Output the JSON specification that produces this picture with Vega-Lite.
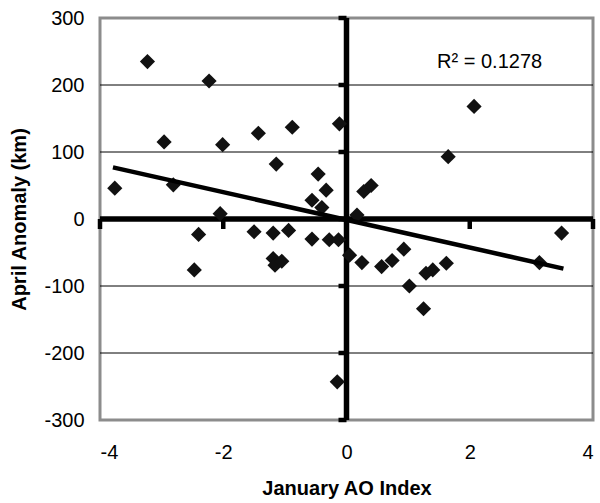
{
  "$schema": "https://vega.github.io/schema/vega-lite/v6.json",
  "width": 493,
  "height": 402,
  "autosize": "none",
  "padding": {"left": 100, "top": 18, "right": 7, "bottom": 83},
  "background": "white",
  "config": {
    "view": {"stroke": "#8c8c8c", "strokeWidth": 3},
    "font": "Liberation Sans"
  },
  "datasets": {
    "points": [
      {"ao": -3.76, "anomaly": 46}, {"ao": -3.23, "anomaly": 235}, {"ao": -2.96, "anomaly": 115},
      {"ao": -2.81, "anomaly": 51}, {"ao": -2.47, "anomaly": -76}, {"ao": -2.40, "anomaly": -23},
      {"ao": -2.23, "anomaly": 206}, {"ao": -2.05, "anomaly": 8}, {"ao": -2.01, "anomaly": 111},
      {"ao": -1.50, "anomaly": -19}, {"ao": -1.43, "anomaly": 128}, {"ao": -1.19, "anomaly": -21},
      {"ao": -1.19, "anomaly": -59}, {"ao": -1.16, "anomaly": -69}, {"ao": -1.05, "anomaly": -63},
      {"ao": -1.14, "anomaly": 82}, {"ao": -0.94, "anomaly": -17}, {"ao": -0.88, "anomaly": 137},
      {"ao": -0.56, "anomaly": 28}, {"ao": -0.56, "anomaly": -30}, {"ao": -0.46, "anomaly": 67},
      {"ao": -0.40, "anomaly": 17}, {"ao": -0.33, "anomaly": 43}, {"ao": -0.28, "anomaly": -31},
      {"ao": -0.15, "anomaly": -243}, {"ao": -0.13, "anomaly": -31}, {"ao": -0.115, "anomaly": 142},
      {"ao": 0.05, "anomaly": -54}, {"ao": 0.17, "anomaly": 6}, {"ao": 0.25, "anomaly": -65},
      {"ao": 0.28, "anomaly": 41}, {"ao": 0.40, "anomaly": 50}, {"ao": 0.57, "anomaly": -71},
      {"ao": 0.74, "anomaly": -62}, {"ao": 0.93, "anomaly": -45}, {"ao": 1.02, "anomaly": -100},
      {"ao": 1.25, "anomaly": -134}, {"ao": 1.29, "anomaly": -81}, {"ao": 1.40, "anomaly": -76},
      {"ao": 1.62, "anomaly": -66}, {"ao": 1.65, "anomaly": 93}, {"ao": 2.07, "anomaly": 168},
      {"ao": 3.13, "anomaly": -65}, {"ao": 3.49, "anomaly": -21}
    ],
    "trend": [
      {"ao": -3.79, "anomaly": 77},
      {"ao": 3.52, "anomaly": -74}
    ],
    "grid": [{"v": -200}, {"v": -100}, {"v": 100}, {"v": 200}],
    "xticks": [{"v": -4}, {"v": -2}, {"v": 0}, {"v": 2}, {"v": 4}],
    "yticks": [{"v": -300}, {"v": -200}, {"v": -100}, {"v": 0}, {"v": 100}, {"v": 200}, {"v": 300}],
    "one": [{"label": "R² = 0.1278", "lx": 1.47, "ly": 234}]
  },
  "layer": [
    {
      "data": {"name": "grid"},
      "mark": {"type": "rule", "color": "black", "strokeWidth": 1},
      "encoding": {
        "y": {
          "field": "v", "type": "quantitative",
          "scale": {"domain": [-300, 300], "nice": false, "zero": false, "padding": 0},
          "axis": {
            "values": [-300, -200, -100, 0, 100, 200, 300],
            "labelExpr": "'' + datum.value",
            "grid": false, "domain": false, "ticks": false, "tickSize": 0,
            "labelFontSize": 20, "labelColor": "black", "labelPadding": 16,
            "title": "April Anomaly (km)", "titleFontSize": 20, "titleFontWeight": "bold",
            "titleColor": "black", "titlePadding": 14
          }
        }
      }
    },
    {
      "data": {"name": "one"},
      "mark": {"type": "rule", "color": "black", "strokeWidth": 5.5},
      "encoding": {"x": {"datum": 0, "type": "quantitative"}}
    },
    {
      "data": {"name": "one"},
      "mark": {"type": "rule", "color": "black", "strokeWidth": 5.5},
      "encoding": {"y": {"datum": 0, "type": "quantitative"}}
    },
    {
      "data": {"name": "xticks"},
      "mark": {"type": "tick", "orient": "vertical", "color": "black", "size": 10, "thickness": 4.5, "yOffset": 5, "opacity": 1},
      "encoding": {
        "x": {"field": "v", "type": "quantitative"},
        "y": {"datum": 0, "type": "quantitative"}
      }
    },
    {
      "data": {"name": "yticks"},
      "mark": {"type": "tick", "orient": "horizontal", "color": "black", "size": 8, "thickness": 4.5, "xOffset": -4, "opacity": 1},
      "encoding": {
        "x": {"datum": 0, "type": "quantitative"},
        "y": {"field": "v", "type": "quantitative"}
      }
    },
    {
      "data": {"name": "points"},
      "mark": {"type": "point", "shape": "diamond", "filled": true, "size": 230, "color": "#111111", "opacity": 1},
      "encoding": {
        "x": {
          "field": "ao", "type": "quantitative",
          "scale": {"domain": [-4, 4], "nice": false, "zero": false, "padding": 0},
          "axis": {
            "values": [-4, -2, 0, 2, 4],
            "labelExpr": "'' + datum.value",
            "grid": false, "domain": false, "ticks": false, "tickSize": 0,
            "labelFontSize": 20, "labelColor": "black", "labelPadding": 22,
            "title": "January AO Index", "titleFontSize": 20, "titleFontWeight": "bold",
            "titleColor": "black", "titlePadding": 16
          }
        },
        "y": {"field": "anomaly", "type": "quantitative"}
      }
    },
    {
      "data": {"name": "trend"},
      "mark": {"type": "line", "color": "black", "strokeWidth": 4.5},
      "encoding": {
        "x": {"field": "ao", "type": "quantitative"},
        "y": {"field": "anomaly", "type": "quantitative"}
      }
    },
    {
      "data": {"name": "one"},
      "mark": {"type": "text", "align": "left", "baseline": "middle", "fontSize": 20, "color": "black"},
      "encoding": {
        "text": {"field": "label"},
        "x": {"field": "lx", "type": "quantitative"},
        "y": {"field": "ly", "type": "quantitative"}
      }
    }
  ]
}
